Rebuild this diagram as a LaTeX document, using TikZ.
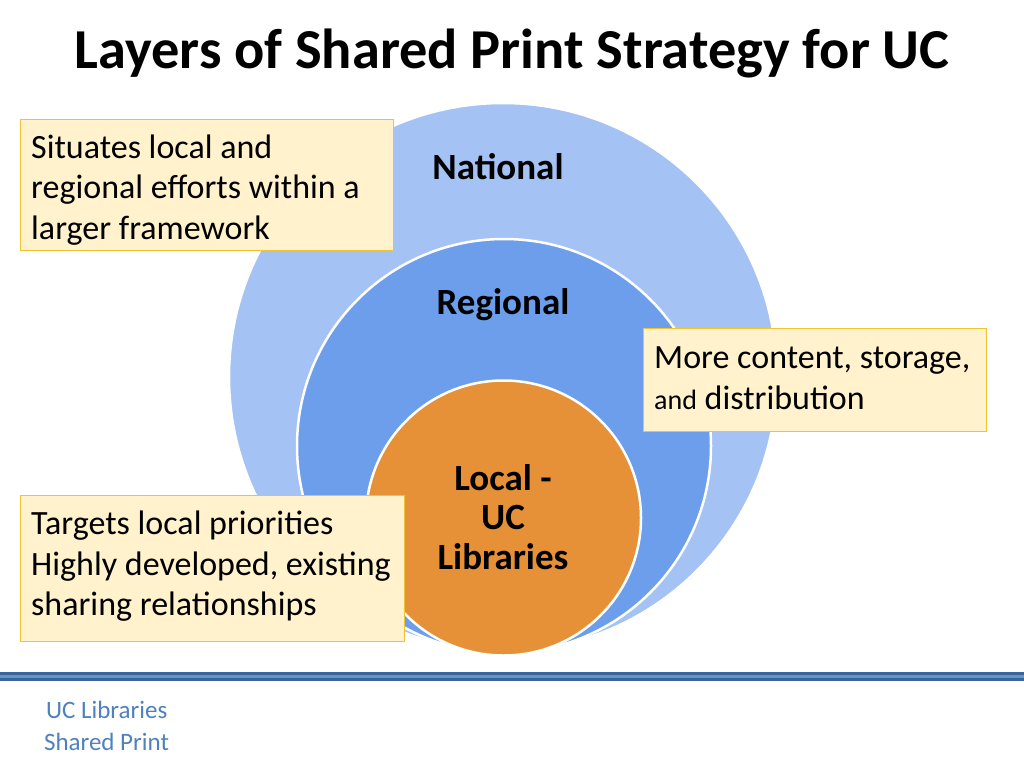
\documentclass[tikz,border=0pt]{standalone}
\usepackage{fontspec}
\setmainfont{Carlito}
\definecolor{natblue}{HTML}{A4C2F4}
\definecolor{regblue}{HTML}{6D9EEB}
\definecolor{locorange}{HTML}{E69138}
\definecolor{boxfill}{HTML}{FFF2CC}
\definecolor{boxline}{HTML}{F1C232}
\definecolor{footblue}{HTML}{4F81BD}
\definecolor{footdark}{HTML}{3A659A}
\begin{document}
\begin{tikzpicture}[x=1pt,y=-1pt,
  layer/.style={circle, draw=white, line width=2.5pt, inner sep=0pt},
  notebox/.style={draw=boxline, fill=boxfill, line width=1pt, anchor=north west, inner sep=0pt},
  notetext/.style={inner xsep=0pt, inner ysep=0pt, align=left,
    font=\fontsize{34}{40.5}\selectfont},
  layerlabel/.style={font=\bfseries\fontsize{37}{39.5}\selectfont, align=center, text=black},
  foot/.style={font=\fontsize{25}{32}\selectfont, text=footblue, anchor=west}]
\useasboundingbox[fill=white] (0,0) rectangle (1024,768);
% title
\node (title) at (512,53) {\bfseries\fontsize{56.4}{64}\selectfont Layers of Shared Print Strategy for UC};
% circles
\node[layer, fill=natblue, minimum size=548pt] (national) at (503,377) {};
\node[layer, fill=regblue, minimum size=414pt] (regional) at (504,446) {};
\node[layer, fill=locorange, minimum size=275pt] (local) at (503.5,518) {};
\node[layerlabel] (natlabel) at (498,167) {National};
\node[layerlabel] (reglabel) at (503,305) {Regional};
\node[layerlabel] (loclabel) at (503,517) {Local -\\UC\\Libraries};
% notes
\node[notebox, minimum width=373pt, minimum height=131pt] (note1) at (20,119) {};
\node[notetext, anchor=west] (note1text) at ([xshift=11pt,yshift=-5pt]note1.west)
  {Situates local and\\regional efforts within a\\larger framework};
\node[notebox, minimum width=343pt, minimum height=103pt] (note2) at (643,328) {};
\node[notetext, anchor=west] (note2text) at ([xshift=11pt,yshift=2pt]note2.west)
  {More content, storage,\\{\fontsize{28}{40.5}\selectfont and} distribution};
\node[notebox, minimum width=384pt, minimum height=146pt] (note3) at (20,495) {};
\node[notetext, anchor=west] (note3text) at ([xshift=11pt,yshift=2pt]note3.west)
  {Targets local priorities\\Highly developed, existing\\sharing relationships};
% footer
\fill[footdark] (0,672) rectangle (1024,681);
\fill[footblue!85!white] (0,675) rectangle (1024,678);
\node[foot] (foot1) at (42.5,710) {UC Libraries};
\node[foot] (foot2) at (40.5,742) {Shared Print};
\end{tikzpicture}
\end{document}
